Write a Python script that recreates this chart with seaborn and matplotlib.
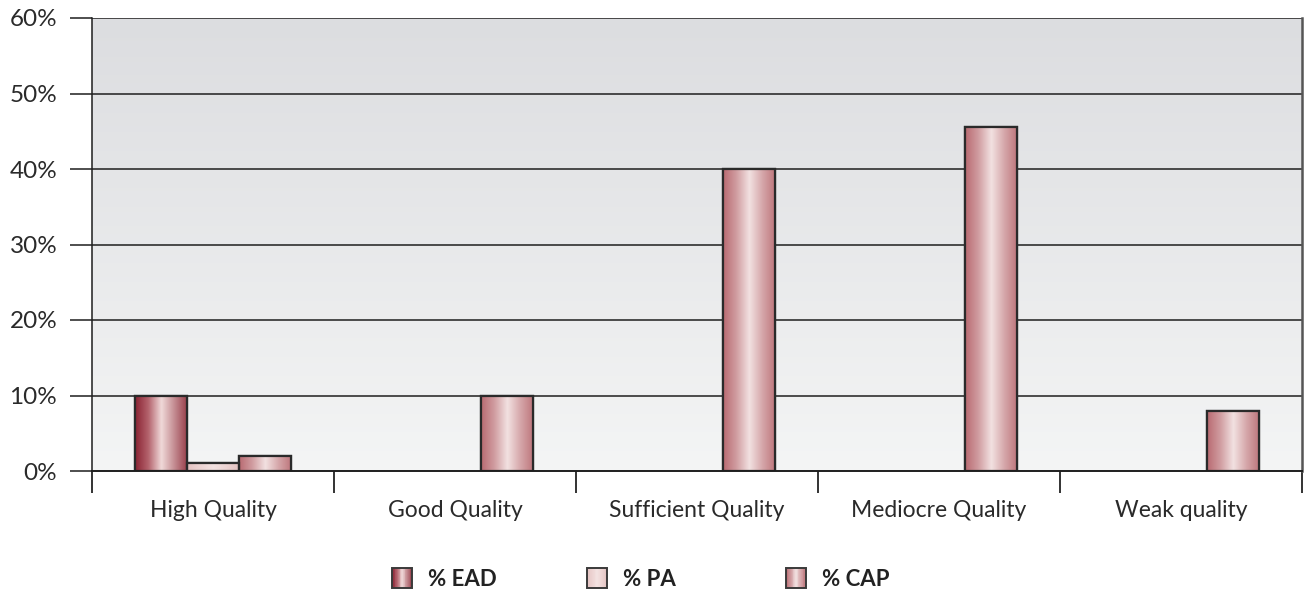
import numpy as np
import pandas as pd
import matplotlib
matplotlib.use("Agg")
import matplotlib.pyplot as plt
import seaborn as sns
from matplotlib.colors import LinearSegmentedColormap
from matplotlib.patches import Rectangle
from matplotlib.legend_handler import HandlerBase

# ---- data ----
categories = ["High Quality", "Good Quality", "Sufficient Quality",
              "Mediocre Quality", "Weak quality"]
series = ["% EAD", "% PA", "% CAP"]
ead = [10, 0, 0, 0, 0]
pa = [1, 0, 0, 0, 0]
cap = [2, 10, 40, 45.5, 8]
yticks = [0, 10, 20, 30, 40, 50, 60]
ytick_labels = ["0%", "10%", "20%", "30%", "40%", "50%", "60%"]

df = pd.DataFrame({
    "category": categories * 3,
    "series": sum([[s] * len(categories) for s in series], []),
    "value": ead + pa + cap,
})

# ---- styling ----
sns.set_theme(style="white")
plt.rcParams["font.family"] = ["Lato", "DejaVu Sans"]

# cylinder-like shading for each series (left edge -> highlight -> right edge)
shades = {
    "% EAD": ["#8a2232", "#b3626c", "#f0d9d9", "#c38a90", "#973c48"],
    "% PA": ["#e4c2c1", "#ecd3d2", "#f3e2e1", "#ecd3d2", "#e2c0bf"],
    "% CAP": ["#b96a71", "#d09ca0", "#f2e1e1", "#d5a6a9", "#bd747a"],
}
base = {"% EAD": "#a84552", "% PA": "#ecd3d1", "% CAP": "#cf9599"}
cmaps = {k: LinearSegmentedColormap.from_list(k, v) for k, v in shades.items()}
edge = "#2a2a2a"

fig = plt.figure(figsize=(13.08, 5.93), dpi=100)
ax = fig.add_axes([92 / 1308, 1 - 471 / 593, 1210 / 1308, 453 / 593])

sns.barplot(data=df, x="category", y="value", hue="series",
            hue_order=series, order=categories, palette=base,
            width=0.645, edgecolor=edge, linewidth=1.6,
            ax=ax, legend=False, zorder=3)

ax.set_ylim(0, 60)
ax.set_xlim(-0.5, len(categories) - 0.5)

# background vertical gradient
bg = LinearSegmentedColormap.from_list("bg", ["#f4f5f5", "#dcdde0"])
ax.imshow(np.linspace(0, 1, 256).reshape(-1, 1), cmap=bg, origin="lower",
          extent=[-0.5, len(categories) - 0.5, 0, 60], aspect="auto", zorder=0)

# gradient fill inside each bar
grad = np.linspace(0, 1, 256).reshape(1, -1)
for s, cont in zip(series, ax.containers):
    for p in cont.patches:
        h = p.get_height()
        if h <= 0:
            p.set_visible(False)
            continue
        x0 = p.get_x()
        w = p.get_width()
        im = ax.imshow(grad, cmap=cmaps[s], extent=[x0, x0 + w, 0, h],
                       aspect="auto", zorder=3.5)
        im.set_clip_path(p)
        outline = Rectangle((x0, 0), w, h, fill=False, edgecolor=edge,
                            linewidth=1.6, zorder=4)
        ax.add_patch(outline)

ax.set_xlim(-0.5, len(categories) - 0.5)
ax.set_ylim(0, 60)

# grid lines
ax.set_yticks(yticks)
ax.set_yticklabels(ytick_labels)
for y in yticks[1:]:
    ax.axhline(y, color="#1e1e1e", lw=1.1, zorder=1)

# x axis: labels centred, ticks at category boundaries
ax.set_xticks(range(len(categories)))
ax.set_xticklabels(categories)
ax.set_xticks(np.arange(-0.5, len(categories)), minor=True)
ax.tick_params(axis="x", which="major", bottom=True, length=0, pad=21,
               labelsize=16.5, labelcolor="#2a2a2a")
ax.tick_params(axis="x", which="minor", bottom=True, length=15.5, width=1.4,
               color="#333333", direction="out")
ax.tick_params(axis="y", left=True, length=16, width=1.1, color="#1e1e1e",
               direction="out", pad=9, labelsize=17.5, labelcolor="#2a2a2a")
ax.set_xlabel("")
ax.set_ylabel("")

ax.spines["top"].set_visible(False)
ax.spines["left"].set_color("#1e1e1e")
ax.spines["left"].set_linewidth(1.1)
ax.spines["bottom"].set_color("#1e1e1e")
ax.spines["bottom"].set_linewidth(1.4)
ax.spines["right"].set_color("#555555")
ax.spines["right"].set_linewidth(1.8)
for s in ax.spines.values():
    s.set_zorder(5)


# legend with shaded swatches
class GradientHandler(HandlerBase):
    def __init__(self, colors):
        super().__init__()
        self.cmap = LinearSegmentedColormap.from_list("h", colors)

    def create_artists(self, legend, orig_handle, xdescent, ydescent,
                       width, height, fontsize, trans):
        n = 24
        arts = []
        for i in range(n):
            r = Rectangle((-xdescent + width * i / n, -ydescent), width / n + 0.3,
                          height, facecolor=self.cmap((i + 0.5) / n),
                          edgecolor="none", transform=trans)
            arts.append(r)
        arts.append(Rectangle((-xdescent, -ydescent), width, height, fill=False,
                              edgecolor="#3a3a3a", linewidth=1.4, transform=trans))
        return arts


# evenly spaced legend entries along the bottom
legend_x = [392 / 1308, 587 / 1308, 786 / 1308]
for s, lx in zip(series, legend_x):
    h = Rectangle((0, 0), 1, 1)
    leg = fig.legend([h], [s], loc="center left", bbox_to_anchor=(lx, 0.0236),
                     frameon=False, handlelength=0.9, handleheight=1.0,
                     handletextpad=0.72, borderpad=0, borderaxespad=0,
                     prop={"size": 16, "weight": "bold"},
                     handler_map={h: GradientHandler(shades[s])})
    for t in leg.get_texts():
        t.set_color("#222222")

fig.savefig("out.png", dpi=100)
